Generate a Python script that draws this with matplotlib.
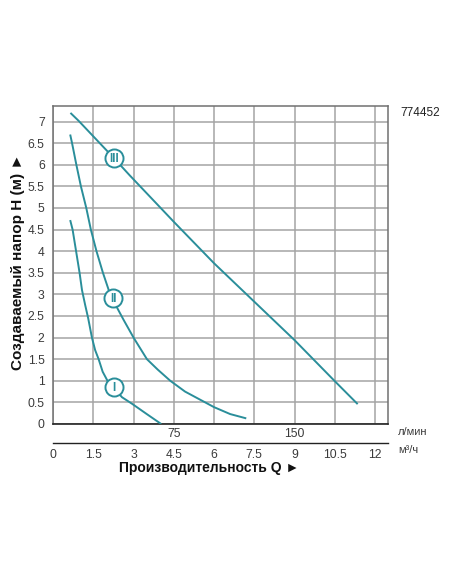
import numpy as np
import matplotlib.pyplot as plt
from matplotlib.transforms import blended_transform_factory

plt.rcParams['font.family'] = ['Liberation Sans', 'DejaVu Sans']

# pump curves, Q in m3/h, H in m
q_1 = [0.64, 0.73, 0.86, 0.99, 1.08, 1.2, 1.31, 1.45, 1.57, 1.70, 1.85, 2.03, 2.29,
       2.57, 2.94, 3.47, 4.03]
h_1 = [4.72, 4.5, 4.0, 3.5, 3.1, 2.75, 2.45, 2.0, 1.71, 1.5, 1.21, 1.0, 0.82,
       0.62, 0.47, 0.24, 0.0]
q_2 = [0.64, 0.71, 0.87, 1.04, 1.24, 1.41, 1.62, 1.86, 2.13, 2.38, 2.63, 3.0, 3.5,
       3.9, 4.37, 4.92, 5.67, 6.0, 6.6, 7.2]
h_2 = [6.7, 6.5, 6.0, 5.5, 5.0, 4.5, 4.0, 3.5, 3.0, 2.7, 2.41, 2.0, 1.5,
       1.26, 1.0, 0.75, 0.5, 0.39, 0.23, 0.13]
q_3 = [0.65, 0.95, 2.26, 2.85, 4.5, 6.0, 7.5, 9.0, 10.5, 11.35]
h_3 = [7.2, 7.02, 6.16, 5.76, 4.68, 3.72, 2.83, 1.94, 0.99, 0.46]
curve_labels = ['I', 'II', 'III']
label_q = [2.27, 2.25, 2.27]
label_h = [0.85, 2.92, 6.16]

q_ticks = [0, 1.5, 3, 4.5, 6, 7.5, 9, 10.5, 12]
q_ticklabels = ['0', '1.5', '3', '4.5', '6', '7.5', '9', '10.5', '12']
h_ticks = [0, 0.5, 1, 1.5, 2, 2.5, 3, 3.5, 4, 4.5, 5, 5.5, 6, 6.5, 7]
h_ticklabels = ['0', '0.5', '1', '1.5', '2', '2.5', '3', '3.5', '4', '4.5', '5', '5.5', '6', '6.5', '7']
lpm_ticks = [75, 150]

teal = '#2a8e9a'
grid_c = '#a4a4a4'
text_c = '#3a3a3a'

fig = plt.figure(figsize=(4.52, 5.84), dpi=100)
ax = fig.add_axes([53 / 452, 160 / 584, 335 / 452, 318 / 584])
ax.set_xlim(0, 12.48)
ax.set_ylim(0, 7.36)

ax.set_xticks(q_ticks)
ax.set_xticklabels([])
ax.set_yticks(h_ticks)
ax.set_yticklabels(h_ticklabels)
ax.tick_params(length=0, labelsize=8.7, labelcolor=text_c, pad=6)
ax.grid(True, color=grid_c, linewidth=1.1)
ax.set_axisbelow(True)
for s in ['left', 'top', 'right']:
    ax.spines[s].set_color('#707070')
    ax.spines[s].set_linewidth(1.1)
ax.spines['bottom'].set_color('#222222')
ax.spines['bottom'].set_linewidth(1.2)

for q, h in [(q_1, h_1), (q_2, h_2), (q_3, h_3)]:
    ax.plot(q, h, color=teal, linewidth=1.4, solid_capstyle='butt',
            solid_joinstyle='round', zorder=3)

for lab, q, h in zip(curve_labels, label_q, label_h):
    ax.plot(q, h, 'o', markersize=13, mfc='white', mec=teal, mew=1.4, zorder=4)
    ax.text(q, h - 0.02, lab, color=teal, fontsize=8.5, fontweight='bold',
            ha='center', va='center', zorder=5)

# l/min values under the plot
tr = blended_transform_factory(ax.transData, ax.transAxes)
for v in lpm_ticks:
    ax.text(v * 60 / 1000, -0.012, str(v), transform=tr, ha='center', va='top',
            fontsize=8.7, color=text_c)

# m3/h axis
sec = ax.secondary_xaxis(-0.06)
sec.set_xticks(q_ticks)
sec.set_xticklabels(q_ticklabels)
sec.tick_params(length=0, labelsize=8.7, labelcolor=text_c, pad=4)
sec.spines['bottom'].set_color('#222222')
sec.spines['bottom'].set_linewidth(1.0)

fig.text(398 / 452, 1 - 432 / 584, 'л/мин', fontsize=8, color=text_c, va='center')
fig.text(398 / 452, 1 - 450 / 584, 'м³/ч', fontsize=8, color=text_c, va='center')
fig.text(400 / 452, 1 - 113 / 584, '774452', fontsize=8.5, color='#222222', va='center')

fig.text(209 / 452, 1 - 468 / 584, 'Производительность Q ►', fontsize=10,
         fontweight='bold', color='#111111', ha='center', va='center')
fig.text(18 / 452, 1 - 262 / 584, 'Создаваемый напор Н (м) ►', fontsize=11,
         fontweight='bold', color='#111111', ha='center', va='center', rotation=90)

fig.savefig('out.png', dpi=100, facecolor='white')
